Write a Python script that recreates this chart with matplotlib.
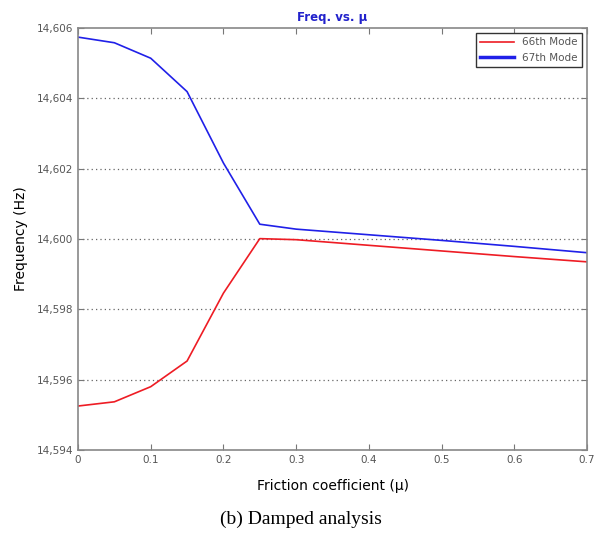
import matplotlib.pyplot as plt
import numpy as np

# friction coefficient values
mu = [0.0, 0.05, 0.1, 0.15, 0.2, 0.25, 0.3, 0.4, 0.5, 0.6, 0.7]

# frequencies
mode66 = [14.59525, 14.59537, 14.59580, 14.59653, 14.59846, 14.60001,
          14.59998, 14.59982, 14.59966, 14.59950, 14.59935]
mode67 = [14.60574, 14.60558, 14.60514, 14.60419, 14.60216, 14.60042,
          14.60028, 14.60012, 14.59996, 14.59979, 14.59961]

xticks = [0, 0.1, 0.2, 0.3, 0.4, 0.5, 0.6, 0.7]
xticklabels = ['0', '0.1', '0.2', '0.3', '0.4', '0.5', '0.6', '0.7']
yticks = [14.594, 14.596, 14.598, 14.600, 14.602, 14.604, 14.606]
yticklabels = ['14,594', '14,596', '14,598', '14,600', '14,602', '14,604', '14,606']

fig = plt.figure(figsize=(6.01, 5.35), dpi=100)
ax = fig.add_axes([0.1298, 0.1589, 0.8469, 0.7888])

ax.plot(mu, mode66, color='#ee1c24', lw=1.2, label='66th Mode')
ax.plot(mu, mode67, color='#2020e8', lw=1.2, label='67th Mode')

ax.set_xlim(0, 0.7)
ax.set_ylim(14.594, 14.606)
ax.set_xticks(xticks)
ax.set_xticklabels(xticklabels)
ax.set_yticks(yticks)
ax.set_yticklabels(yticklabels)
ax.tick_params(direction='in', top=True, right=True, labelsize=7.5,
               labelcolor='#555555', color='#777777', length=4)

# only horizontal dotted grid lines
for y in yticks[1:-1]:
    ax.axhline(y, color='#666666', ls=(0, (1, 2.5)), lw=0.9, zorder=0)

for s in ax.spines.values():
    s.set_color('#888888')
    s.set_linewidth(1.2)

ax.set_title('Freq. vs. \u03bc', color='#2222cc', fontsize=8.5, fontweight='bold', pad=5)
ax.set_xlabel('Friction coefficient (\u03bc)', fontsize=10, labelpad=10)
ax.set_ylabel('Frequency (Hz)', fontsize=10, labelpad=6)

leg = ax.legend(loc='upper right', fontsize=7.5, fancybox=False, framealpha=1,
                edgecolor='#333333', handlelength=3.2, borderaxespad=0.5)
leg.get_lines()[1].set_linewidth(2.5)
for t in leg.get_texts():
    t.set_color('#555555')

fig.text(0.5, 0.03, '(b) Damped analysis', ha='center', va='center',
         family='Liberation Serif', fontsize=14)

fig.savefig('out.png', dpi=100)
